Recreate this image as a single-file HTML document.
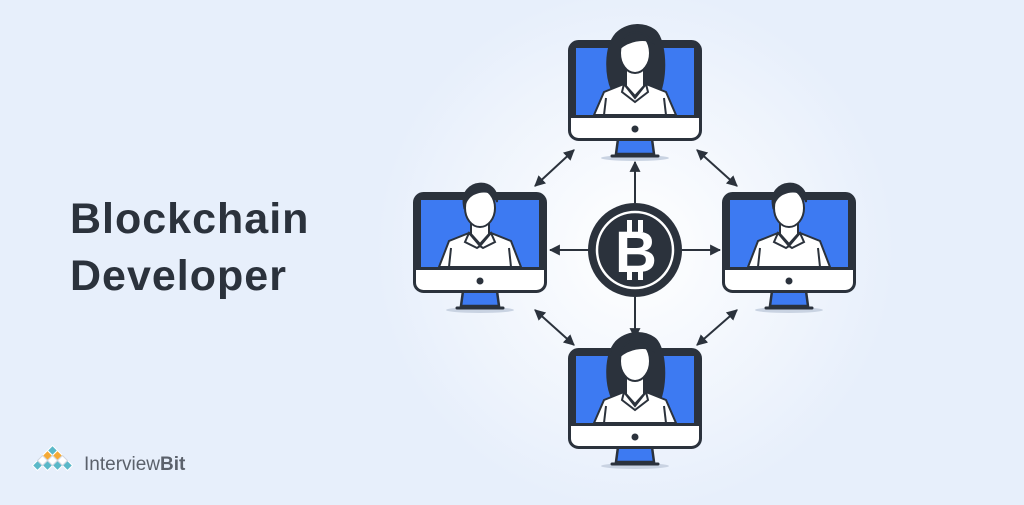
<!DOCTYPE html>
<html><head><style>
html,body{margin:0;padding:0}
body{width:1024px;height:500px;overflow:hidden;background:#e7effb;font-family:"Liberation Sans",sans-serif}
</style></head><body>
<svg width="1024" height="500" viewBox="0 0 1024 500" xmlns="http://www.w3.org/2000/svg">
<defs>
<radialGradient id="g" cx="635" cy="250" r="260" gradientUnits="userSpaceOnUse">
<stop offset="0" stop-color="#ffffff"/><stop offset="1" stop-color="#e7effb"/></radialGradient>
<marker id="ah" viewBox="0 0 10 10" refX="9" refY="5" markerWidth="5.5" markerHeight="5.5" orient="auto-start-reverse">
<path d="M0,0 L10,5 L0,10 z" fill="#2b323c"/></marker>
<g id="mon">
<ellipse cx="67" cy="118" rx="34" ry="3" fill="#c9d3e2"/>
<polygon points="50,99 84,99 86,114 48,114" fill="#3d7af2" stroke="#2b323c" stroke-width="2.5"/>
<line x1="44" y1="116" x2="90" y2="116" stroke="#2b323c" stroke-width="3" stroke-linecap="round"/>
<rect x="1.5" y="1.5" width="131" height="98" rx="9" fill="#fff" stroke="#2b323c" stroke-width="3"/>
<path d="M10.5,1.5 H123.5 A9,9 0 0 1 132.5,10.5 V78 H1.5 V10.5 A9,9 0 0 1 10.5,1.5z" fill="#2b323c"/>
<rect x="8" y="8" width="118" height="67" fill="#3d7af2"/>
<circle cx="67" cy="89" r="3.5" fill="#2b323c"/>
</g>
<clipPath id="scr"><rect x="8" y="-30" width="118" height="105"/></clipPath>
<g id="man">
<g clip-path="url(#scr)" stroke="#2b323c" stroke-width="2" fill="#fff">
<path d="M26,75 L36,49 L56,41 H78 L98,49 L108,75z"/>
<line x1="38" y1="56" x2="36" y2="75"/><line x1="96" y1="56" x2="98" y2="75"/>
<path d="M58,30 V42 L67,52 L76,42 V30z"/>
<ellipse cx="67" cy="16" rx="15" ry="19"/>
<path d="M51,14 C46,-14 86,-16 84,10 C82,2 76,-2 66,0 C58,2 54,6 51,14z" fill="#2b323c"/>
<path d="M56,41 L67,54 L78,41 L82,50 L70,56 L67,54 L64,56 L52,50z"/>
</g>
</g>
<g id="woman">
<g clip-path="url(#scr)" stroke="#2b323c" stroke-width="2" fill="#fff">
<path d="M48,-6 C36,8 38,36 44,50 L92,52 C100,30 96,-4 86,-10 C74,-18 58,-16 48,-6z" fill="#2b323c"/>
<path d="M26,75 L36,52 L56,44 H78 L98,52 L108,75z"/>
<line x1="38" y1="58" x2="36" y2="75"/><line x1="96" y1="58" x2="98" y2="75"/>
<path d="M58,30 V46 L67,56 L76,46 V30z"/>
<ellipse cx="67" cy="13" rx="15" ry="20"/>
<path d="M52,8 C54,-10 74,-13 84,2 C76,-2 62,0 52,8z" fill="#2b323c"/>
<path d="M56,44 L67,58 L78,44 L80,52 L67,62 L54,52z"/>
</g>
</g>
</defs>
<rect width="1024" height="500" fill="url(#g)"/>
<text x="70" y="233" font-size="43" font-weight="bold" fill="#2b323c" letter-spacing="1">Blockchain</text>
<text x="70" y="290" font-size="43" font-weight="bold" fill="#2b323c" letter-spacing="1">Developer</text>
<g>
<g fill="#5ab8c8" stroke="#fff" stroke-width="1">
<rect x="34" y="462" width="7" height="7" transform="rotate(45 37.5 465.5)"/>
<rect x="44" y="462" width="7" height="7" transform="rotate(45 47.5 465.5)"/>
<rect x="54" y="462" width="7" height="7" transform="rotate(45 57.5 465.5)"/>
<rect x="64" y="462" width="7" height="7" transform="rotate(45 67.5 465.5)"/>
<rect x="49" y="447" width="7" height="7" transform="rotate(45 52.5 450.5)"/>
</g>
<g fill="#f4a935" stroke="#fff" stroke-width="1">
<rect x="44" y="452" width="7" height="7" transform="rotate(45 47.5 455.5)"/>
<rect x="54" y="452" width="7" height="7" transform="rotate(45 57.5 455.5)"/>
</g>
<g fill="#fff" stroke="#cfd6e0" stroke-width="1">
<rect x="39" y="457" width="7" height="7" transform="rotate(45 42.5 460.5)"/>
<rect x="49" y="457" width="7" height="7" transform="rotate(45 52.5 460.5)"/>
<rect x="59" y="457" width="7" height="7" transform="rotate(45 62.5 460.5)"/>
</g>
<text x="84" y="470" font-size="19" fill="#5b616b">Interview<tspan font-weight="bold">Bit</tspan></text>
</g>
<g stroke="#2b323c" stroke-width="2" marker-end="url(#ah)">
<line x1="635" y1="203" x2="635" y2="162"/>
<line x1="635" y1="297" x2="635" y2="338"/>
<line x1="588" y1="250" x2="550" y2="250"/>
<line x1="682" y1="250" x2="720" y2="250"/>
</g>
<g stroke="#2b323c" stroke-width="2" marker-end="url(#ah)" marker-start="url(#ah)">
<line x1="574" y1="150" x2="535" y2="186"/>
<line x1="697" y1="150" x2="737" y2="186"/>
<line x1="535" y1="310" x2="574" y2="345"/>
<line x1="737" y1="310" x2="697" y2="345"/>
</g>
<use href="#mon" x="568" y="40"/><use href="#woman" x="568" y="40"/>
<use href="#mon" x="413" y="192"/><use href="#man" x="413" y="192"/>
<use href="#mon" x="722" y="192"/><use href="#man" x="722" y="192"/>
<use href="#mon" x="568" y="348"/><use href="#woman" x="568" y="348"/>
<circle cx="635" cy="250" r="47" fill="#2b323c"/>
<circle cx="635" cy="250" r="38" fill="none" stroke="#fff" stroke-width="2.5"/>
<g fill="#fff">
<rect x="627" y="220" width="5" height="12"/><rect x="638" y="220" width="5" height="12"/>
<rect x="627" y="268" width="5" height="12"/><rect x="638" y="268" width="5" height="12"/>
</g>
<text x="636" y="272" text-anchor="middle" font-size="58" font-weight="bold" fill="#fff">B</text>
</svg>
</body></html>
